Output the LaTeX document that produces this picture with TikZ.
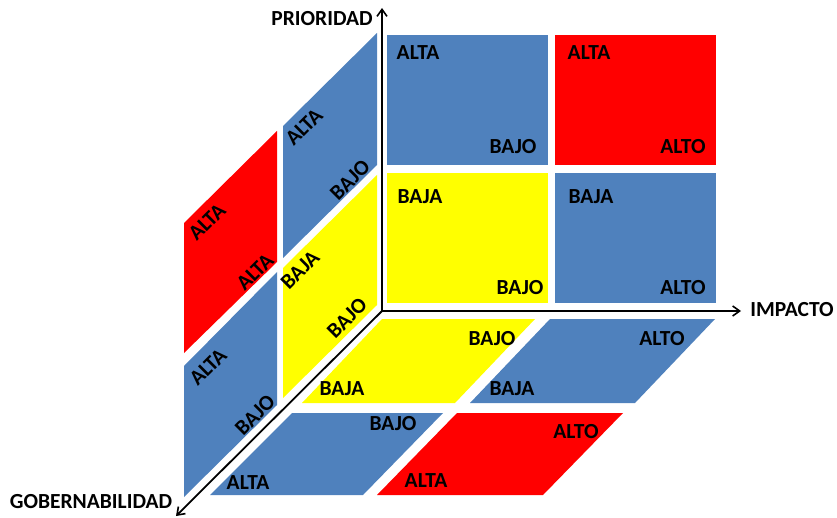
\documentclass[tikz,border=0pt]{standalone}
\usepackage{fontspec}
\setmainfont{Carlito}
\usetikzlibrary{arrows.meta}
\definecolor{cblue}{HTML}{4F81BD}
\definecolor{cred}{HTML}{FF0000}
\definecolor{cyel}{HTML}{FFFF00}
\tikzset{
  lbl/.style={font=\bfseries\fontsize{21.5}{22}\selectfont, inner sep=0pt, text=black},
  wl/.style={lbl, rotate=45},
  axhalo/.style={white, line width=5pt},
  axline/.style={black, line width=1.8pt, -{Straight Barb[length=7pt,width=10pt,line width=1.6pt]}},
}
\begin{document}
\begin{tikzpicture}[x=1pt,y=-1pt]
\useasboundingbox (0,0) rectangle (837,518);
% front wall
\fill[cblue] (387,35) rectangle (548,165);
\fill[cred]  (555,35) rectangle (716,165);
\fill[cyel]  (387,173) rectangle (548,303);
\fill[cblue] (555,173) rectangle (716,303);
% left wall
\fill[cblue] (377,33) -- (377,165) -- (283,258) -- (283,126) -- cycle;
\fill[cyel]  (377,175) -- (377,305) -- (283,398) -- (283,268) -- cycle;
\fill[cred]  (277,131) -- (277,262) -- (184,353) -- (184,223) -- cycle;
\fill[cblue] (277,272) -- (277,405) -- (184,497) -- (184,366) -- cycle;
% floor
\fill[cyel]  (382,319) -- (535,319) -- (455,403) -- (302,403) -- cycle;
\fill[cblue] (550,319) -- (715,319) -- (635,403) -- (470,403) -- cycle;
\fill[cblue] (292,413) -- (443,413) -- (363,495) -- (210,495) -- cycle;
\fill[cred]  (457,413) -- (623,413) -- (543,495) -- (377,495) -- cycle;
% axes
\coordinate (O) at (382,311);
\coordinate (P) at (382,8);
\coordinate (I) at (741,311);
\coordinate (G) at (176,516);
\draw[axhalo] (O) -- (P);
\draw[axhalo] (O) -- (I);
\draw[axhalo] (O) -- (G);
\draw[axline] (O) -- (P);
\draw[axline] (O) -- (I);
\draw[axline] (O) -- (G);
\node[lbl] (tP) at (322,19) {PRIORIDAD};
\node[lbl] (tI) at (792,310) {IMPACTO};
\node[lbl] (tG) at (91,502) {GOBERNABILIDAD};
% front wall labels
\node[lbl] (f1a) at (418,53) {ALTA};
\node[lbl] (f1b) at (513,147) {BAJO};
\node[lbl] (f2a) at (589,53) {ALTA};
\node[lbl] (f2b) at (683,147) {ALTO};
\node[lbl] (f3a) at (420,197) {BAJA};
\node[lbl] (f3b) at (520,288) {BAJO};
\node[lbl] (f4a) at (591,197) {BAJA};
\node[lbl] (f4b) at (683,288) {ALTO};
% left wall labels
\node[wl] (w1a) at (304,127) {ALTA};
\node[wl] (w1b) at (350,180) {BAJO};
\node[wl] (w2a) at (207,222) {ALTA};
\node[wl] (w2b) at (255,272) {ALTA};
\node[wl] (w3a) at (300,270) {BAJA};
\node[wl] (w3b) at (347,318) {BAJO};
\node[wl] (w4a) at (208,367) {ALTA};
\node[wl] (w4b) at (255,415) {BAJO};
% floor labels
\node[lbl] (g1a) at (492,339) {BAJO};
\node[lbl] (g1b) at (342,389) {BAJA};
\node[lbl] (g2a) at (662,339) {ALTO};
\node[lbl] (g2b) at (512,389) {BAJA};
\node[lbl] (g3a) at (393,424) {BAJO};
\node[lbl] (g3b) at (248,483) {ALTA};
\node[lbl] (g4a) at (576,432) {ALTO};
\node[lbl] (g4b) at (426,481) {ALTA};
\end{tikzpicture}
\end{document}
